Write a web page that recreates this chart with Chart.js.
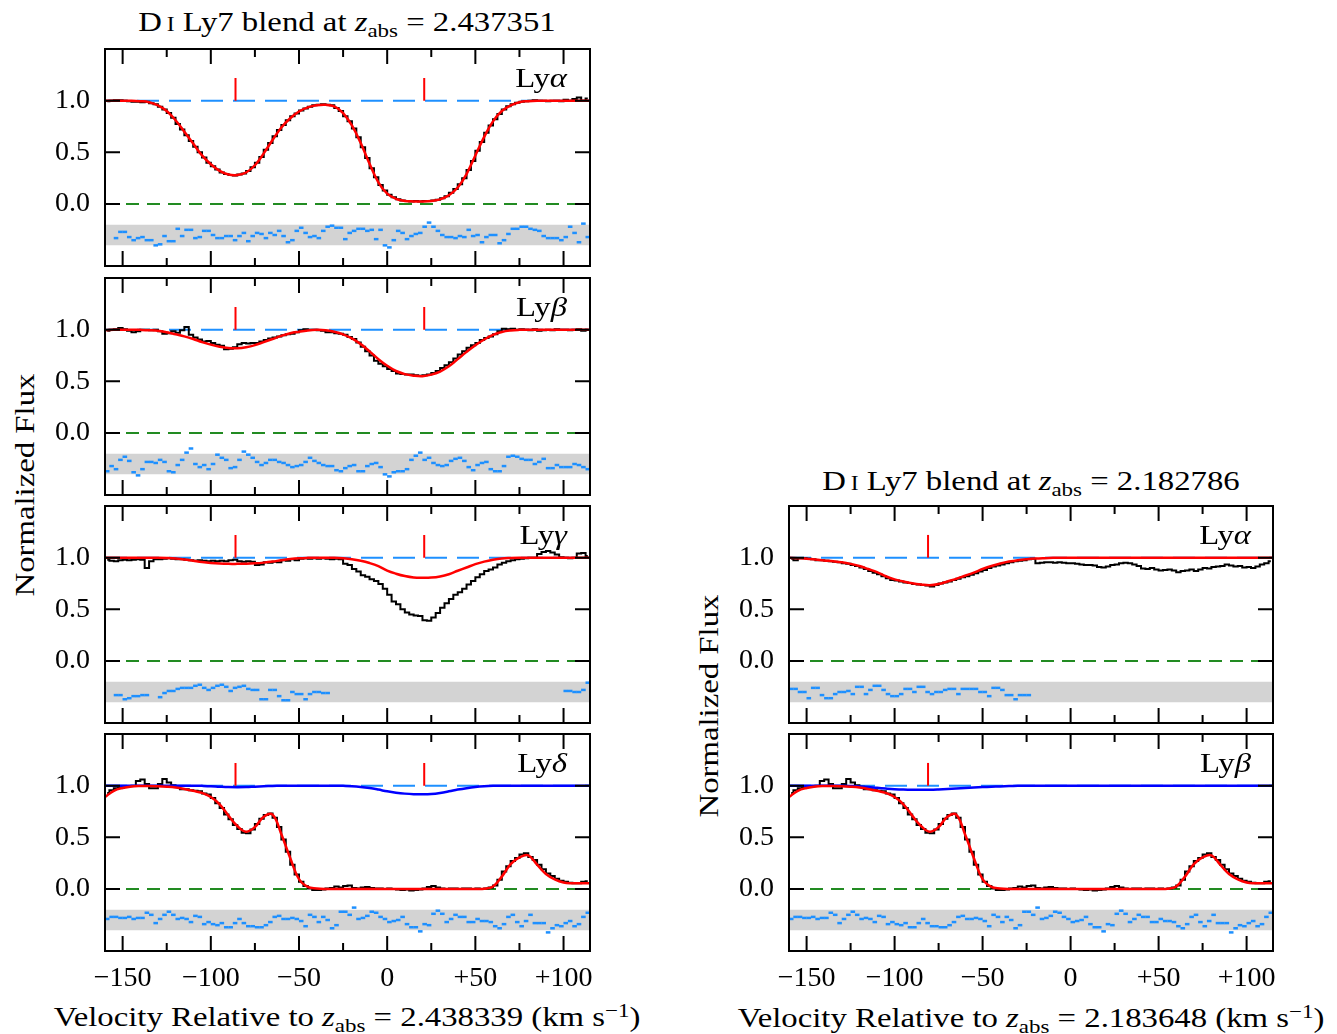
<!DOCTYPE html>
<html>
<head>
<meta charset="utf-8">
<title>D I Ly7 blends</title>
<script src="https://cdn.jsdelivr.net/npm/chart.js@4.4.1/dist/chart.umd.min.js"></script>
<style>
  html, body { margin: 0; padding: 0; background: #fff; }
  body { position: relative; width: 1337px; height: 1034px; overflow: hidden;
         font-family: "Liberation Serif", "DejaVu Serif", serif; color: #000; }
  canvas { position: absolute; }
  .txt { position: absolute; white-space: nowrap; font-size: 28px; line-height: 1; }
  .c { transform: translate(-50%, -50%) scaleX(1.17); }
  .r { transform: translate(-100%, -50%) scaleX(1.17); transform-origin: right center; }
  .rot { transform: translate(-50%, -50%) rotate(-90deg) scaleX(1.17); }
  .sub { font-size: 70%; position: relative; top: 0.3em; }
  .sup { font-size: 70%; position: relative; top: -0.45em; }
  .sc { font-size: 72%; }
</style>
</head>
<body>

<div class="txt c" style="left:347px; top:22px">D<span class="sc">&#8201;I</span> Ly7 blend at <i>z</i><span class="sub">abs</span> = 2.437351</div>
<div class="txt c" style="left:1031px; top:481px">D<span class="sc">&#8201;I</span> Ly7 blend at <i>z</i><span class="sub">abs</span> = 2.182786</div>
<div class="txt c" style="left:347px; top:1017px">Velocity Relative to <i>z</i><span class="sub">abs</span> = 2.438339 (km s<span class="sup">&minus;1</span>)</div>
<div class="txt c" style="left:1031px; top:1018px">Velocity Relative to <i>z</i><span class="sub">abs</span> = 2.183648 (km s<span class="sup">&minus;1</span>)</div>
<div class="txt rot" style="left:25px; top:485px">Normalized Flux</div>
<div class="txt rot" style="left:709px; top:706px">Normalized Flux</div>

<script>
// velocity axis (km/s)
const velMin = -160
const velMax = 115
const velTicks = [-150, -125, -100, -75, -50, -25, 0, 25, 50, 75, 100]
const velLabels = ['\u2212150', '', '\u2212100', '', '\u221250', '', '0', '', '+50', '', '+100']
const fluxTicks = [0, 0.5, 1.0]
const fluxLabels = ['0.0', '0.5', '1.0']

// spectrum pixels are 2.5 km/s wide
const binVel = Array.from({length: 110}, (_, i) => -158.75 + 2.5 * i)

// model profiles sampled every 5 km/s
const modelVel = [-160, -155, -150, -145, -140, -135, -130, -125, -120, -115,
    -110, -105, -100, -95, -90, -85, -80, -75, -70, -65,
    -60, -55, -50, -45, -40, -35, -30, -25, -20, -15,
    -10, -5, 0, 5, 10, 15, 20, 25, 30, 35,
    40, 45, 50, 55, 60, 65, 70, 75, 80, 85,
    90, 95, 100, 105, 110, 115]

// component positions (red ticks)
const compLeft = [-86, 21]
const compRight = [-81]

// ---- observed flux ----
const fluxL1 = [0.995, 1.0, 1.005, 1.005, 1.0, 0.995, 0.99, 0.99, 0.985, 0.99,
    0.975, 0.965, 0.94, 0.915, 0.88, 0.835, 0.775, 0.72, 0.665, 0.61,
    0.555, 0.5, 0.45, 0.40, 0.365, 0.335, 0.305, 0.29, 0.28, 0.275,
    0.285, 0.295, 0.32, 0.355, 0.40, 0.455, 0.525, 0.59, 0.655, 0.715,
    0.765, 0.81, 0.85, 0.875, 0.905, 0.925, 0.94, 0.955, 0.96, 0.965,
    0.96, 0.955, 0.93, 0.90, 0.85, 0.80, 0.73, 0.645, 0.55, 0.445,
    0.345, 0.26, 0.185, 0.13, 0.09, 0.065, 0.045, 0.035, 0.03, 0.025,
    0.03, 0.025, 0.03, 0.03, 0.035, 0.04, 0.055, 0.075, 0.11, 0.145,
    0.19, 0.25, 0.33, 0.415, 0.515, 0.60, 0.69, 0.76, 0.82, 0.87,
    0.915, 0.945, 0.965, 0.98, 0.99, 0.995, 1.0, 1.005, 1.0, 1.0,
    0.995, 1.0, 1.0, 0.995, 1.01, 1.0, 1.015, 1.03, 1.0, 1.02]

const fluxL2 = [0.99, 1.0, 1.005, 1.015, 1.005, 0.99, 0.975, 0.985, 1.0, 1.0,
    0.995, 1.0, 0.985, 0.96, 0.965, 0.985, 0.97, 0.995, 1.025, 0.95,
    0.925, 0.905, 0.885, 0.89, 0.87, 0.855, 0.845, 0.81, 0.815, 0.83,
    0.86, 0.87, 0.865, 0.87, 0.87, 0.885, 0.90, 0.915, 0.925, 0.935,
    0.945, 0.955, 0.96, 0.975, 0.995, 1.005, 1.0, 1.0, 0.995, 0.99,
    0.975, 0.975, 0.965, 0.96, 0.95, 0.93, 0.91, 0.875, 0.835, 0.79,
    0.75, 0.70, 0.67, 0.645, 0.62, 0.60, 0.575, 0.57, 0.565, 0.565,
    0.56, 0.555, 0.56, 0.565, 0.58, 0.60, 0.63, 0.655, 0.685, 0.72,
    0.76, 0.79, 0.825, 0.85, 0.87, 0.90, 0.92, 0.935, 0.955, 0.985,
    1.01, 1.005, 1.01, 1.0, 1.005, 1.0, 0.995, 1.005, 0.99, 0.995,
    1.0, 0.995, 1.005, 1.0, 1.0, 0.995, 1.0, 1.005, 0.99, 1.0]

const fluxL3 = [0.98, 0.97, 0.965, 0.975, 0.98, 0.975, 0.98, 0.985, 0.98, 0.90,
    0.965, 0.985, 0.985, 0.99, 0.995, 0.99, 0.985, 0.985, 0.98, 0.975,
    0.97, 0.975, 0.97, 0.965, 0.97, 0.965, 0.97, 0.965, 0.975, 0.98,
    0.965, 0.96, 0.965, 0.96, 0.93, 0.935, 0.955, 0.95, 0.96, 0.955,
    0.975, 0.97, 0.985, 0.975, 0.99, 0.995, 0.99, 0.995, 0.99, 0.995,
    0.99, 0.985, 0.99, 0.985, 0.94, 0.93, 0.89, 0.865, 0.83, 0.815,
    0.79, 0.775, 0.745, 0.70, 0.64, 0.575, 0.55, 0.50, 0.47, 0.45,
    0.44, 0.435, 0.395, 0.39, 0.42, 0.465, 0.515, 0.56, 0.60, 0.64,
    0.665, 0.70, 0.74, 0.775, 0.81, 0.84, 0.87, 0.885, 0.905, 0.935,
    0.95, 0.965, 0.975, 0.985, 0.99, 0.995, 1.0, 1.0, 1.035, 1.055,
    1.065, 1.05, 1.03, 1.005, 1.0, 0.995, 1.0, 1.04, 1.045, 1.015]

const fluxL4 = [0.93, 0.955, 0.975, 0.98, 0.99, 0.995, 1.0, 1.045, 1.06, 1.015,
    0.975, 0.975, 1.015, 1.065, 1.03, 1.005, 0.99, 0.965, 0.965, 0.955,
    0.95, 0.945, 0.925, 0.915, 0.88, 0.83, 0.785, 0.72, 0.675, 0.62,
    0.58, 0.545, 0.54, 0.575, 0.63, 0.68, 0.715, 0.73, 0.69, 0.60,
    0.48, 0.36, 0.235, 0.14, 0.07, 0.03, 0.005, -0.01, -0.01, -0.005,
    0.005, 0.01, 0.025, 0.015, 0.03, 0.035, 0.01, 0.005, 0.015, 0.02,
    0.01, 0.005, 0.005, 0.0, 0.005, 0.0, -0.005, -0.01, -0.005, -0.015,
    -0.01, -0.005, 0.005, 0.02, 0.03, 0.015, 0.005, 0.0, 0.005, 0.005,
    0.0, 0.005, 0.005, 0.0, 0.005, 0.0, 0.005, 0.015, 0.035, 0.09,
    0.17, 0.22, 0.27, 0.30, 0.335, 0.345, 0.31, 0.28, 0.235, 0.19,
    0.15, 0.125, 0.10, 0.08, 0.07, 0.06, 0.055, 0.055, 0.07, 0.075]

// Ly-delta at 2.4383 falls on the same pixels as Ly-beta at 2.1836
const fluxR2 = fluxL4

const fluxR1 = [0.99, 0.975, 0.995, 0.995, 0.99, 0.985, 0.975, 0.975, 0.97, 0.965,
    0.96, 0.955, 0.945, 0.94, 0.93, 0.92, 0.905, 0.89, 0.87, 0.855,
    0.84, 0.82, 0.80, 0.785, 0.78, 0.77, 0.76, 0.755, 0.745, 0.74,
    0.735, 0.73, 0.72, 0.735, 0.75, 0.76, 0.77, 0.785, 0.795, 0.81,
    0.82, 0.835, 0.85, 0.865, 0.88, 0.90, 0.915, 0.925, 0.935, 0.945,
    0.955, 0.965, 0.97, 0.975, 0.985, 0.99, 0.945, 0.95, 0.955, 0.955,
    0.95, 0.955, 0.95, 0.945, 0.945, 0.94, 0.935, 0.93, 0.93, 0.925,
    0.91, 0.905, 0.915, 0.93, 0.935, 0.945, 0.95, 0.945, 0.935, 0.92,
    0.895, 0.89, 0.90, 0.885, 0.875, 0.88, 0.885, 0.875, 0.86, 0.87,
    0.875, 0.885, 0.87, 0.885, 0.90, 0.895, 0.91, 0.915, 0.92, 0.935,
    0.925, 0.915, 0.92, 0.905, 0.91, 0.90, 0.915, 0.935, 0.945, 0.965]

// ---- fitted profiles ----
const fitL1 = [1.0, 1.0, 1.0, 1.0, 0.995, 0.985, 0.955, 0.90, 0.81, 0.70,
    0.585, 0.47, 0.385, 0.32, 0.285, 0.28, 0.305, 0.375, 0.49, 0.62,
    0.74, 0.83, 0.895, 0.935, 0.955, 0.96, 0.945, 0.88, 0.76, 0.59,
    0.39, 0.21, 0.10, 0.05, 0.03, 0.025, 0.025, 0.03, 0.045, 0.085,
    0.16, 0.29, 0.47, 0.65, 0.80, 0.90, 0.955, 0.985, 0.995, 1.0,
    1.0, 1.0, 1.0, 1.0, 1.0, 1.0]

const fitL2 = [0.995, 1.0, 1.0, 1.0, 0.998, 0.995, 0.99, 0.975, 0.955, 0.935,
    0.91, 0.88, 0.855, 0.835, 0.822, 0.82, 0.83, 0.85, 0.88, 0.91,
    0.94, 0.965, 0.98, 0.992, 0.998, 0.995, 0.98, 0.955, 0.915, 0.86,
    0.79, 0.715, 0.65, 0.60, 0.57, 0.555, 0.55, 0.565, 0.595, 0.645,
    0.715, 0.785, 0.85, 0.905, 0.95, 0.978, 0.992, 0.998, 1.0, 1.0,
    1.0, 1.0, 1.0, 1.0, 1.0, 1.0]

const fitL3 = [1.0, 1.0, 1.0, 1.0, 1.0, 1.0, 1.0, 0.997, 0.992, 0.982,
    0.97, 0.958, 0.949, 0.943, 0.94, 0.94, 0.941, 0.945, 0.952, 0.962,
    0.975, 0.986, 0.994, 0.998, 1.0, 1.0, 0.999, 0.994, 0.985, 0.97,
    0.948, 0.918, 0.875, 0.845, 0.822, 0.808, 0.805, 0.807, 0.818, 0.84,
    0.873, 0.905, 0.937, 0.962, 0.98, 0.992, 0.997, 1.0, 1.0, 1.0,
    1.0, 1.0, 1.0, 1.0, 1.0, 1.0]

const fitL4 = [0.89, 0.95, 0.978, 0.993, 0.997, 0.997, 0.995, 0.99, 0.982, 0.968,
    0.95, 0.93, 0.89, 0.82, 0.71, 0.61, 0.555, 0.60, 0.70, 0.72,
    0.53, 0.30, 0.095, 0.02, 0.005, 0.0, 0.0, 0.0, 0.0, 0.0,
    0.0, 0.0, 0.0, 0.0, 0.0, 0.0, 0.0, 0.0, 0.0, 0.0,
    0.0, 0.0, 0.0, 0.002, 0.025, 0.12, 0.24, 0.305, 0.325, 0.235,
    0.145, 0.093, 0.063, 0.056, 0.055, 0.055]

const fitR1 = [1.0, 0.995, 0.99, 0.982, 0.973, 0.965, 0.955, 0.94, 0.92, 0.89,
    0.86, 0.82, 0.79, 0.77, 0.752, 0.74, 0.733, 0.745, 0.77, 0.795,
    0.825, 0.855, 0.89, 0.92, 0.943, 0.962, 0.976, 0.985, 0.991, 0.995,
    0.998, 1.0, 1.0, 1.0, 1.0, 1.0, 1.0, 1.0, 1.0, 1.0,
    1.0, 1.0, 1.0, 1.0, 1.0, 1.0, 1.0, 1.0, 1.0, 1.0,
    1.0, 1.0, 1.0, 1.0, 1.0, 1.0]

const fitR2 = fitL4

// D I profile alone (blue) in the blended panels
const deutL4 = [1.0, 1.0, 1.0, 1.0, 1.0, 1.0, 1.0, 1.0, 1.0, 1.0,
    1.0, 0.998, 0.995, 0.99, 0.986, 0.985, 0.986, 0.99, 0.994, 0.997,
    0.999, 1.0, 1.0, 1.0, 1.0, 1.0, 1.0, 0.998, 0.995, 0.988,
    0.977, 0.962, 0.945, 0.932, 0.923, 0.918, 0.917, 0.92, 0.93, 0.945,
    0.962, 0.976, 0.987, 0.994, 0.998, 1.0, 1.0, 1.0, 1.0, 1.0,
    1.0, 1.0, 1.0, 1.0, 1.0, 1.0]

const deutR2 = [1.0, 1.0, 1.0, 1.0, 1.0, 1.0, 1.0, 0.997, 0.993, 0.987,
    0.979, 0.972, 0.966, 0.962, 0.96, 0.96, 0.961, 0.964, 0.968, 0.972,
    0.977, 0.982, 0.986, 0.99, 0.993, 0.996, 0.998, 1.0, 1.0, 1.0,
    1.0, 1.0, 1.0, 1.0, 1.0, 1.0, 1.0, 1.0, 1.0, 1.0,
    1.0, 1.0, 1.0, 1.0, 1.0, 1.0, 1.0, 1.0, 1.0, 1.0,
    1.0, 1.0, 1.0, 1.0, 1.0, 1.0]

// ---- residuals, in units of sigma (null = pixel not fitted) ----
const resL1 = [null, null, -0.3, 0.3, 0.3, -0.2, -0.5, -0.3, -0.2, -0.5,
    -0.5, -1.0, -0.9, -0.1, -0.6, -0.6, 0.6, -0.1, 0.5, 0.5,
    -0.3, -0.2, 0.4, 0.4, 0.0, -0.3, -0.3, -0.1, -0.1, -0.5,
    -0.1, 0.2, -0.6, -0.1, 0.2, 0.1, -0.3, 0.2, 0.0, 0.4,
    -0.1, -0.7, -0.5, 0.4, 0.7, 0.2, -0.2, -0.1, -0.3, 0.4,
    0.8, 0.9, 0.7, 0.7, -0.4, 0.2, 0.4, 0.6, 0.6, 0.4,
    0.5, -0.4, 0.5, -1.0, -1.2, -0.5, 0.4, 0.2, -0.4, -0.1,
    0.1, 0.2, 0.8, 1.2, 0.8, 0.4, 0.0, -0.2, -0.2, -0.3,
    -0.1, -0.2, 0.5, -0.1, 0.0, -0.7, -0.2, 0.0, 0.0, -0.8,
    -0.5, 0.1, 0.6, 0.6, 0.8, 0.8, 0.6, 0.5, 0.4, -0.1,
    -0.3, -0.3, -0.3, -0.5, -0.2, 0.8, 0.2, -0.7, 1.1, -0.2]

const resL2 = [-0.7, -0.2, -0.5, 0.4, 0.7, 0.3, -0.8, -1.1, -0.5, 0.2,
    0.2, 0.1, 0.4, 0.2, -0.7, -0.8, -0.1, 0.4, 1.1, 1.5,
    0.0, -0.3, -0.1, -0.5, 0.0, 0.9, 0.6, 0.4, -0.4, -0.3,
    0.4, 1.2, 0.9, 0.6, 0.2, -0.1, 0.1, 0.4, 0.4, 0.2,
    0.1, -0.1, -0.3, -0.2, -0.1, 0.2, 0.6, 0.3, 0.1, -0.1,
    -0.2, -0.2, -0.6, -0.7, -0.4, -0.2, -0.1, -0.7, -0.7, -0.2,
    0.0, 0.1, -0.3, -1.0, -1.2, -0.8, -0.7, -0.7, -0.5, 0.4,
    0.8, 1.1, 0.4, 0.6, 0.1, -0.1, -0.2, -0.1, 0.3, 0.5,
    0.6, 0.3, -0.3, -0.6, -0.1, 0.1, 0.2, -0.5, -0.7, -0.7,
    -0.2, 0.7, 0.8, 0.7, 0.5, 0.4, 0.4, 0.0, 0.2, 0.5,
    -0.4, -0.4, -0.1, -0.3, -0.3, -0.3, 0.0, -0.1, -0.3, -0.5]

const resL3 = [null, null, -0.3, -0.3, -0.7, -0.6, -0.4, -0.4, -0.3, -0.3,
    null, null, -0.5, -0.1, 0.1, 0.1, 0.3, 0.4, 0.4, 0.4,
    0.6, 0.7, 0.4, 0.2, 0.4, 0.6, 0.7, 0.5, 0.1, 0.4,
    0.5, 0.6, 0.3, 0.2, 0.2, -0.7, -0.7, 0.2, 0.2, -0.4,
    -0.8, -0.8, 0.0, -0.2, -0.2, -0.7, -0.2, 0.0, 0.0, -0.1,
    -0.1, null, null, null, null, null, null, null, null, null,
    null, null, null, null, null, null, null, null, null, null,
    null, null, null, null, null, null, null, null, null, null,
    null, null, null, null, null, null, null, null, null, null,
    null, null, null, null, null, null, null, null, null, null,
    null, null, null, null, 0.1, 0.1, 0.0, 0.0, 0.2, 0.9]

const resL4 = [0.1, 0.3, 0.3, 0.2, 0.2, 0.3, 0.1, 0.2, 0.2, 0.7,
    0.5, -0.3, 0.1, 0.5, 0.8, 0.5, 0.1, 0.2, 0.1, -0.2,
    0.4, 0.3, -0.4, -0.2, -0.4, -0.5, -0.3, -0.7, -0.7, -0.3,
    0.1, -0.3, -0.6, -0.6, -0.7, -0.7, -0.5, -0.2, 0.3, 0.4,
    0.1, 0.1, 0.2, 0.1, -0.1, -0.6, 0.5, 0.3, -0.2, 0.3,
    0.0, -0.8, -0.5, 0.8, 0.8, 0.5, 1.2, 0.1, 0.2, 0.4,
    0.8, 0.7, 0.3, 0.1, -0.2, -0.1, 0.0, 0.3, -0.4, -0.7,
    -0.7, -1.1, -0.4, -0.5, 0.6, 0.9, 0.6, -0.2, 0.1, 0.5,
    0.3, 0.3, -0.2, -0.2, 0.1, -0.1, -0.1, -0.2, -0.6, -0.8,
    -0.4, 0.3, 0.5, -0.2, -0.6, -0.1, 0.5, -0.3, -0.3, -0.3,
    -1.2, -0.8, -0.5, -0.6, -0.3, -0.1, -0.6, -0.4, 0.3, 0.7]

const resR1 = [0.3, 0.3, 0.0, 0.0, -0.6, 0.4, 0.4, -0.3, -0.6, -0.6,
    -0.2, 0.0, 0.0, 0.1, -0.2, 0.5, 0.5, -0.2, 0.2, 0.6,
    0.6, 0.2, -0.2, -0.4, -0.4, -0.2, 0.3, 0.3, 0.0, 0.5,
    0.5, 0.0, -0.2, 0.0, 0.0, 0.2, 0.3, 0.3, -0.2, 0.3,
    0.3, 0.3, 0.3, 0.0, 0.0, -0.4, 0.4, 0.4, 0.2, -0.3,
    -0.3, -0.7, -0.3, -0.3, -0.3]

const resR2 = resL4

// residual strip: drawn centred on -0.3, one sigma = 0.1
const resCenter = -0.3
const resScale = 0.1

const FONT = {family: '"Liberation Serif", "DejaVu Serif", serif', size: 28}

const panels = [
    {left: 0, top: 49, flux: fluxL1, fit: fitL1, res: resL1, comps: compLeft, line: '\u03b1'},
    {left: 0, top: 278, flux: fluxL2, fit: fitL2, res: resL2, comps: compLeft, line: '\u03b2'},
    {left: 0, top: 506, flux: fluxL3, fit: fitL3, res: resL3, comps: compLeft, line: '\u03b3'},
    {left: 0, top: 734, flux: fluxL4, fit: fitL4, deut: deutL4, res: resL4, comps: compLeft, line: '\u03b4', bottom: true},
    {left: 684, top: 506, flux: fluxR1, fit: fitR1, res: resR1, comps: compRight, line: '\u03b1'},
    {left: 684, top: 734, flux: fluxR2, fit: fitR2, deut: deutR2, res: resR2, comps: compRight, line: '\u03b2', bottom: true},
]

const PANEL_H = 217
const PAD = 10
const YAXIS_W = 105
const XAXIS_H = 52

function pts(vel, vals, map) {
    const out = []
    vals.forEach((v, i) => {
        if (v !== null && v !== undefined) out.push({x: vel[i], y: map ? map(v) : v})
    })
    return out
}

// inward ticks on all four sides + the frame
const frameTicks = {
    id: 'frameTicks',
    afterDatasetsDraw(chart) {
        const {ctx, chartArea: a, scales: {x, y}} = chart
        ctx.save()
        ctx.strokeStyle = '#000'
        ctx.lineWidth = 2
        ctx.beginPath()
        velTicks.forEach(v => {
            const px = x.getPixelForValue(v)
            const len = v % 50 === 0 ? 15 : 8
            ctx.moveTo(px, a.bottom)
            ctx.lineTo(px, a.bottom - len)
            ctx.moveTo(px, a.top)
            ctx.lineTo(px, a.top + len)
        })
        fluxTicks.forEach(f => {
            const py = y.getPixelForValue(f)
            ctx.moveTo(a.left, py)
            ctx.lineTo(a.left + 15, py)
            ctx.moveTo(a.right, py)
            ctx.lineTo(a.right - 15, py)
        })
        ctx.stroke()
        ctx.strokeRect(a.left, a.top, a.right - a.left, a.bottom - a.top)
        ctx.restore()
    }
}

function makePanel(p) {
    const w = 600
    const h = PAD + PANEL_H + (p.bottom ? XAXIS_H : PAD)
    const cv = document.createElement('canvas')
    cv.width = w
    cv.height = h
    cv.style.left = p.left + 'px'
    cv.style.top = (p.top - PAD) + 'px'
    cv.style.width = w + 'px'
    cv.style.height = h + 'px'
    document.body.appendChild(cv)

    const lbl = document.createElement('div')
    lbl.className = 'txt r'
    lbl.style.left = (p.left + YAXIS_W + 462) + 'px'
    lbl.style.top = (p.top + 29) + 'px'
    lbl.innerHTML = 'Ly<i>' + p.line + '</i>'
    document.body.appendChild(lbl)

    const compData = []
    p.comps.forEach(v => {
        compData.push({x: v, y: 1.0}, {x: v, y: 1.22}, {x: v, y: null})
    })

    const datasets = [
        {data: pts(modelVel, p.fit), borderColor: '#ff0000', borderWidth: 2.5, pointRadius: 0,
            tension: 0.4, order: 1},
        {data: compData, borderColor: '#ff0000', borderWidth: 2, pointRadius: 0, spanGaps: false, order: 0},
        {data: pts(binVel, p.flux), borderColor: '#000000', borderWidth: 2, pointRadius: 0,
            stepped: 'middle', order: 3},
        {data: [{x: velMin, y: 1.0}, {x: velMax, y: 1.0}], borderColor: '#1e90ff', borderWidth: 2,
            borderDash: [22, 10], pointRadius: 0, order: 5},
        {data: [{x: velMin, y: 0.0}, {x: velMax, y: 0.0}], borderColor: '#228b22', borderWidth: 2,
            borderDash: [13, 8], pointRadius: 0, order: 6},
        {data: pts(binVel, p.res, r => resCenter + resScale * r), showLine: false,
            pointStyle: 'line', pointRadius: 2.3, pointBorderWidth: 2.5,
            pointBorderColor: '#1e90ff', borderColor: '#1e90ff', order: 7},
        {data: [{x: velMin, y: -0.2}, {x: velMax, y: -0.2}], borderWidth: 0, pointRadius: 0,
            fill: '+1', backgroundColor: '#d3d3d3', order: 9},
        {data: [{x: velMin, y: -0.4}, {x: velMax, y: -0.4}], borderWidth: 0, pointRadius: 0,
            fill: false, order: 9},
    ]
    if (p.deut) {
        datasets.push({data: pts(modelVel, p.deut), borderColor: '#0000ff', borderWidth: 2.5,
            pointRadius: 0, tension: 0.4, order: 2})
    }

    new Chart(cv, {
        type: 'line',
        data: {datasets},
        options: {
            responsive: false,
            animation: false,
            layout: {padding: {top: PAD, right: p.left ? 11 : 10, left: 0, bottom: p.bottom ? 0 : PAD}},
            scales: {
                x: {
                    type: 'linear', min: velMin, max: velMax,
                    grid: {display: false, drawTicks: false},
                    border: {display: false},
                    afterBuildTicks: s => { s.ticks = velTicks.map(v => ({value: v})) },
                    ticks: {display: !!p.bottom, callback: (v, i) => velLabels[i], font: FONT, color: '#000',
                        padding: 11, autoSkip: false, maxRotation: 0, minRotation: 0},
                    afterFit: s => {
                        s.height = p.bottom ? XAXIS_H : 0
                        s.paddingLeft = 0
                        s.paddingRight = 0
                    }
                },
                y: {
                    type: 'linear', min: -0.6, max: 1.5,
                    grid: {display: false, drawTicks: false},
                    border: {display: false},
                    afterBuildTicks: s => { s.ticks = fluxTicks.map(v => ({value: v})) },
                    ticks: {callback: (v, i) => fluxLabels[i], font: FONT, color: '#000', padding: 15},
                    afterFit: s => {
                        s.width = YAXIS_W
                        s.paddingTop = 0
                        s.paddingBottom = 0
                    }
                }
            },
            plugins: {legend: {display: false}, tooltip: {enabled: false}}
        },
        plugins: [frameTicks]
    })
}

panels.forEach(makePanel)
</script>
</body>
</html>
